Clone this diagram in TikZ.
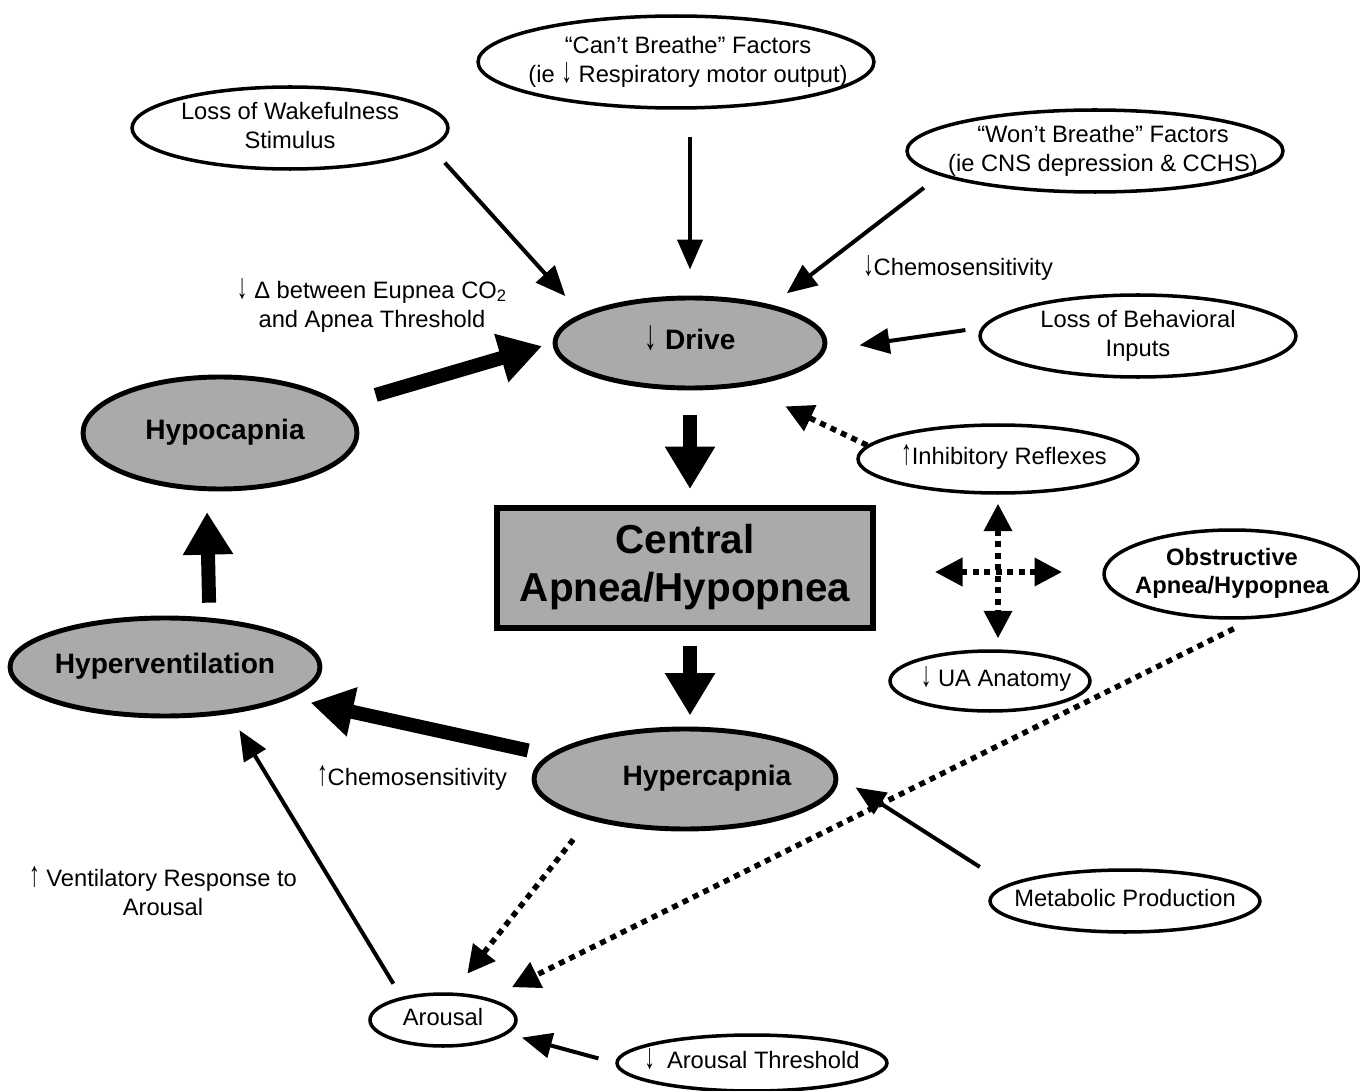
\documentclass[tikz,border=0pt]{standalone}
\usepackage{fontspec}
\usepackage{graphicx}
\setmainfont{Liberation Sans}
\usetikzlibrary{shapes.geometric,arrows.meta}
\definecolor{fillgray}{RGB}{170,170,170}
\newcommand\mytxt[2][0pt]{\makebox[0pt][c]{\hspace*{#1}\begin{tabular}{@{}c@{}}#2\end{tabular}}}
\newcommand\dnar{\scalebox{0.9}[1.5]{↓}}
\newcommand\uparr{\scalebox{0.9}[1.5]{↑}}
\begin{document}
\begin{tikzpicture}[x=0.02cm,y=-0.02cm,
  oval/.style={ellipse, draw, line width=2pt, fill=white, inner sep=0pt, font=\fontsize{13.5}{16.5}\selectfont},
  goval/.style={ellipse, draw, line width=2.8pt, fill=fillgray, inner sep=0pt, font=\bfseries\fontsize{16}{19}\selectfont},
  cbox/.style={rectangle, draw, line width=3.4pt, fill=fillgray, inner sep=0pt, font=\bfseries\fontsize{23}{27}\selectfont},
  lbl/.style={inner sep=0pt, align=center, font=\fontsize{13.5}{16.5}\selectfont},
  ttip/.tip={Triangle[length=0.6cm,width=0.5cm]},
  btip/.tip={Triangle[length=0.85cm,width=0.95cm]},
  dtip/.tip={Triangle[length=0.55cm,width=0.55cm]},
  thinarr/.style={line width=0.08cm, -ttip},
  thickarr/.style={line width=0.28cm, -btip},
  dotarr/.style={line width=0.11cm, dash pattern=on 0.12cm off 0.11cm, -dtip},
]
\useasboundingbox (0,0) rectangle (1360,1091);

% nodes
\node[oval, minimum width=7.92cm, minimum height=1.84cm] (can) at (676,62) {\mytxt[0.48cm]{“Can’t Breathe” Factors\\(ie \dnar{} Respiratory motor output)}};
\node[oval, minimum width=6.32cm, minimum height=1.32cm] (wake) at (290,128) {\mytxt{Loss of Wakefulness\\Stimulus}};
\node[oval, minimum width=7.52cm, minimum height=1.6cm] (wont) at (1095,151) {\mytxt[0.32cm]{“Won’t Breathe” Factors\\(ie CNS depression \& CCHS)}};
\node[goval, minimum width=5.4cm, minimum height=1.8cm] (drive) at (690,343) {\mytxt{\dnar{} Drive}};
\node[oval, minimum width=6.32cm, minimum height=1.52cm] (behav) at (1138,336) {\mytxt{Loss of Behavioral\\Inputs}};
\node[goval, minimum width=5.48cm, minimum height=2.24cm] (hypo) at (220,433) {\mytxt[0.2cm]{Hypocapnia}};
\node[oval, minimum width=5.6cm, minimum height=1.36cm] (inhib) at (998,459) {\mytxt[0.24cm]{\uparr{}Inhibitory Reflexes}};
\node[cbox, minimum width=7.52cm, minimum height=2.4cm] (central) at (685,568) {\mytxt{Central\\Apnea/Hypopnea}};
\node[oval, minimum width=5.12cm, minimum height=1.76cm, font=\bfseries\fontsize{13.5}{16}\selectfont] (obst) at (1232,574) {\mytxt{Obstructive\\Apnea/Hypopnea}};
\node[oval, minimum width=4cm, minimum height=1.2cm] (ua) at (990,681) {\mytxt[0.24cm]{\dnar{} UA Anatomy}};
\node[goval, minimum width=6.2cm, minimum height=1.96cm] (hypervent) at (165,667) {\mytxt{Hyperventilation}};
\node[goval, minimum width=6.04cm, minimum height=2cm] (hyperc) at (685,779) {\mytxt[0.88cm]{Hypercapnia}};
\node[oval, minimum width=5.4cm, minimum height=1.24cm] (metab) at (1125,901) {\mytxt{Metabolic Production}};
\node[oval, minimum width=2.92cm, minimum height=1.04cm] (arousal) at (443,1020) {\mytxt{Arousal}};
\node[oval, minimum width=5.4cm, minimum height=1.12cm] (athresh) at (752,1063) {\mytxt{\dnar\enspace Arousal Threshold}};

% labels
\node[lbl] (lbdelta) at (372,305) {\dnar{} Δ between Eupnea CO\textsubscript{2}\\and Apnea Threshold};
\node[lbl] (lbchemd) at (958,268) {\dnar{}Chemosensitivity};
\node[lbl] (lbchemu) at (412,778) {\uparr{}Chemosensitivity};
\node[lbl] (lbvent) at (163,891) {\uparr{} Ventilatory Response to\\Arousal};

\coordinate (crossW) at (935,572);
\coordinate (crossE) at (1062,572);

% connectors
\draw[thinarr, shorten <=0.54cm, shorten >=0.52cm] (drive.north |- can.south) -- (drive.north);
\draw[thinarr, shorten <=0.4cm, shorten >=0.48cm] (wake.-8) -- (drive.165);
\draw[thinarr, shorten <=0.4cm, shorten >=0.38cm] (wont.189) -- (drive.25);
\draw[thinarr, shorten <=0.32cm, shorten >=0.68cm] (behav.177) -- (drive.-3);
\draw[dotarr, shorten >=0.92cm] (inhib.174) -- (drive.-39);
\draw[thickarr, shorten <=0.7cm, shorten >=0.22cm] (hypo.13) -- (drive.west);
\draw[thickarr, shorten <=0.5cm, shorten >=0.32cm] (drive.south) -- (drive.south |- central.north);
\draw[thickarr, shorten <=0.3cm, shorten >=0.22cm] (drive.south |- central.south) -- (drive.south |- hyperc.north);
\draw[thickarr, shorten <=0.42cm, shorten >=0.42cm] (hyperc.170) -- (hypervent.-14);
\draw[thickarr, shorten <=0.3cm, shorten >=0.42cm] (hypervent.48) -- (hypo.-103);
\draw[thinarr, shorten <=0.31cm, shorten >=0.38cm] (arousal.151) -- (hypervent.-36);
\draw[dotarr, shorten <=0.5cm, shorten >=0.48cm] (hyperc.203) -- (arousal.71);
\draw[dotarr, shorten <=0.43cm, shorten >=0.5cm] (obst.-65) -- (arousal.25);
\draw[thinarr, shorten <=0.65cm, shorten >=0.41cm] (metab.172) -- (hyperc.1);
\draw[thinarr, shorten <=0.35cm, shorten >=0.29cm] (athresh.west) -- (arousal.-12);
\draw[dotarr, dtip-dtip, shorten <=0.18cm, shorten >=0.22cm] (inhib.south) -- (inhib.south |- ua.north);
\draw[dotarr, dtip-dtip] (crossW) -- (crossE);
\end{tikzpicture}
\end{document}
